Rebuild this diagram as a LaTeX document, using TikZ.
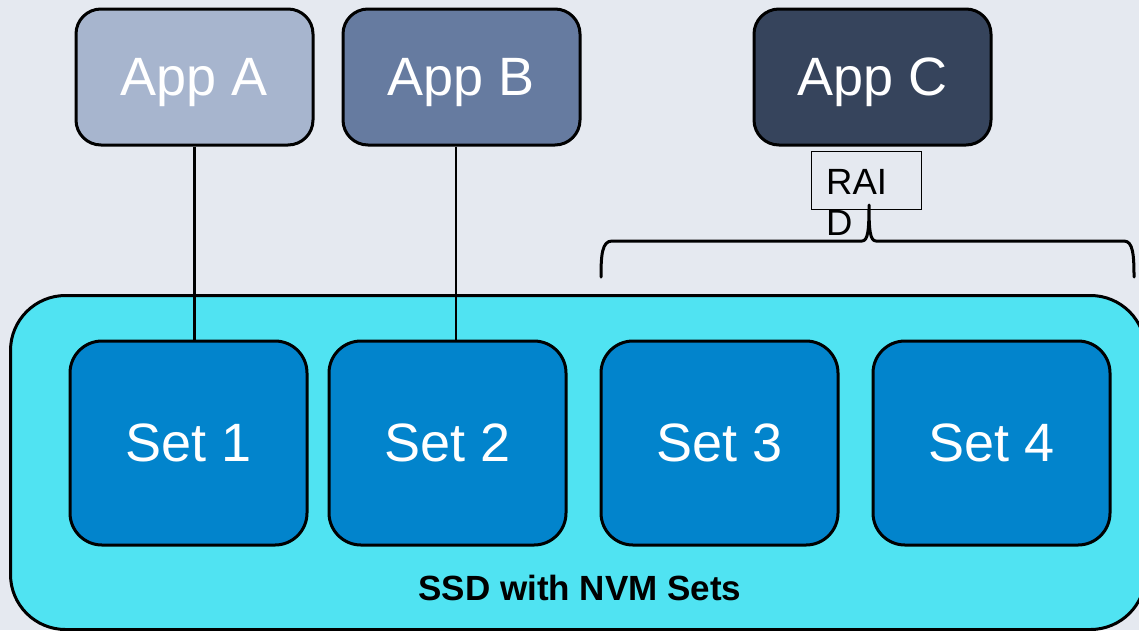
\documentclass[tikz,border=0pt]{standalone}
\usepackage{fontspec}
\setmainfont{Liberation Sans}
\definecolor{bgcol}{HTML}{E5E9F0}
\definecolor{appa}{HTML}{A7B5CE}
\definecolor{appb}{HTML}{667BA0}
\definecolor{appc}{HTML}{36445C}
\definecolor{ssdcol}{HTML}{50E3F2}
\definecolor{setcol}{HTML}{0284CC}
\tikzset{
  appbox/.style={draw=black, line width=3pt, rounded corners=25pt,
    minimum width=237pt, minimum height=136pt, inner sep=0pt, text depth=0pt,
    text=white, font=\fontsize{54}{60}\selectfont},
  setbox/.style={draw=black, line width=3pt, rounded corners=32pt, fill=setcol,
    minimum width=237pt, minimum height=204pt, inner sep=0pt,
    text=white, font=\fontsize{54}{60}\selectfont},
  link/.style={draw=black, line width=2.5pt},
}
\begin{document}
\begin{tikzpicture}[x=1pt,y=-1pt]
  % canvas
  \fill[bgcol] (0,0) rectangle (1139,630);
  \useasboundingbox (0,0) rectangle (1139,630);
  \begin{scope}
    \clip (0,0) rectangle (1139,630);
    % drive enclosure
    \node[draw=black, line width=3pt, fill=ssdcol, rounded corners=55pt,
          minimum width=1135pt, minimum height=334pt, anchor=north west,
          inner sep=0pt] (ssd) at (9,294) {};
  \end{scope}
  \node[font=\bfseries\fontsize{35}{40}\selectfont, anchor=base] (ssdlabel)
       at (580,600) {SSD with NVM Sets};

  % applications
  \node[appbox, fill=appa] (appA) at (194.5,77) {App A};
  \node[appbox, fill=appb] (appB) at (461.5,77) {App B};
  \node[appbox, fill=appc] (appC) at (872.5,77) {App C};

  % NVM sets
  \node[setbox] (set1) at (188.5,443) {Set 1};
  \node[setbox] (set2) at (447.5,443) {Set 2};
  \node[setbox] (set3) at (719.5,443) {Set 3};
  \node[setbox] (set4) at (991.5,443) {Set 4};

  % application to set links
  \draw[link] (appA.south) -- (appA.south |- set1.north);
  \draw[link] ([xshift=-5.5pt]appB.south) -- ([xshift=-5.5pt]appB.south |- set2.north);

  % RAID label box
  \node[draw=black, line width=0.8pt, minimum width=110pt, minimum height=58pt,
        inner sep=0pt, anchor=north west] (raid) at (811,151) {};
  \node[anchor=north west, align=left, inner sep=0pt,
        font=\fontsize{36.5}{41}\selectfont] (raidtext) at (826,169.5)
        {RAI\\D};

  % brace spanning sets 3 and 4
  \draw[line width=3pt, line cap=round, line join=round]
    (601,277) .. controls (601,255) and (602,241) .. (612,241)
    -- (862,241) .. controls (868,241) and (869,230) .. (869,205)
    .. controls (869,230) and (870,241) .. (876,241)
    -- (1124,241) .. controls (1133,241) and (1134,255) .. (1134,277);
\end{tikzpicture}
\end{document}
